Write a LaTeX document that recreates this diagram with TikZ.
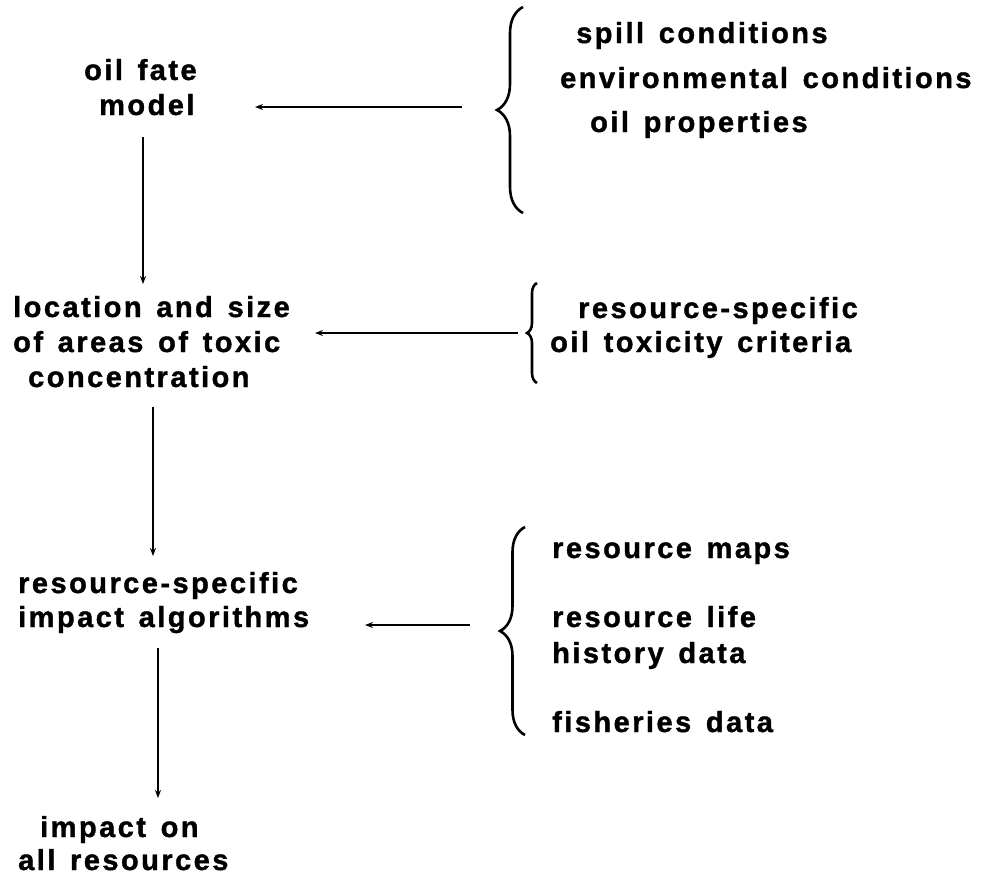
\documentclass[tikz,border=0pt]{standalone}
\usepackage{fontspec}
\setmainfont{Liberation Sans Bold}[LetterSpace=8.5,WordSpace=1.4,FakeBold=1.3]
\usetikzlibrary{arrows.meta,decorations.pathreplacing}
\begin{document}
\begin{tikzpicture}[x=1pt,y=-1pt,
  lbl/.style={anchor=base west,inner sep=0pt,font=\fontsize{29}{34}\selectfont},
  arr/.style={line width=2pt,-{Stealth[length=8pt,width=6pt]}},
  brc/.style={line width=2.6pt,decorate,decoration={brace,mirror,amplitude=#1}}]
\path[use as bounding box,fill=white] (0,0) rectangle (984,876);
% left column
\node[lbl] (l1a) at (84,80) {oil fate};
\node[lbl] (l1b) at (99,115) {model};
\node[lbl] (l2a) at (13,317) {location and size};
\node[lbl] (l2b) at (13,352) {of areas of toxic};
\node[lbl] (l2c) at (28,387) {concentration};
\node[lbl] (l3a) at (18,593) {resource-specific};
\node[lbl] (l3b) at (18,627) {impact algorithms};
\node[lbl] (l4a) at (40,837) {impact on};
\node[lbl] (l4b) at (18,870) {all resources};
% right column
\node[lbl] (r1a) at (576,43) {spill conditions};
\node[lbl] (r1b) at (560,88) {environmental conditions};
\node[lbl] (r1c) at (590,132) {oil properties};
\node[lbl] (r2a) at (578,318) {resource-specific};
\node[lbl] (r2b) at (550,352) {oil toxicity criteria};
\node[lbl] (r3a) at (552,558) {resource maps};
\node[lbl] (r3b) at (552,627) {resource life};
\node[lbl] (r3c) at (552,663) {history data};
\node[lbl] (r3d) at (552,732) {fisheries data};
% braces
\coordinate (b1t) at (523,7);  \coordinate (b1b) at (523,213);
\coordinate (b2t) at (537,283); \coordinate (b2b) at (537,383);
\coordinate (b3t) at (525,527); \coordinate (b3b) at (525,735);
\draw[brc=26pt] (b1t) -- (b1b);
\draw[brc=10pt] (b2t) -- (b2b);
\draw[brc=25pt] (b3t) -- (b3b);
% arrow ends
\coordinate (h1s) at (462,107); \coordinate (h1e) at (255,107);
\coordinate (h2s) at (518,333); \coordinate (h2e) at (315,333);
\coordinate (h3s) at (470,625); \coordinate (h3e) at (365,625);
\coordinate (v1s) at (143,137); \coordinate (v1e) at (143,284);
\coordinate (v2s) at (153,407); \coordinate (v2e) at (153,556);
\coordinate (v3s) at (158,648); \coordinate (v3e) at (158,798);
\draw[arr] (h1s) -- (h1e);
\draw[arr] (h2s) -- (h2e);
\draw[arr] (h3s) -- (h3e);
\draw[arr] (v1s) -- (v1e);
\draw[arr] (v2s) -- (v2e);
\draw[arr] (v3s) -- (v3e);
\end{tikzpicture}
\end{document}
